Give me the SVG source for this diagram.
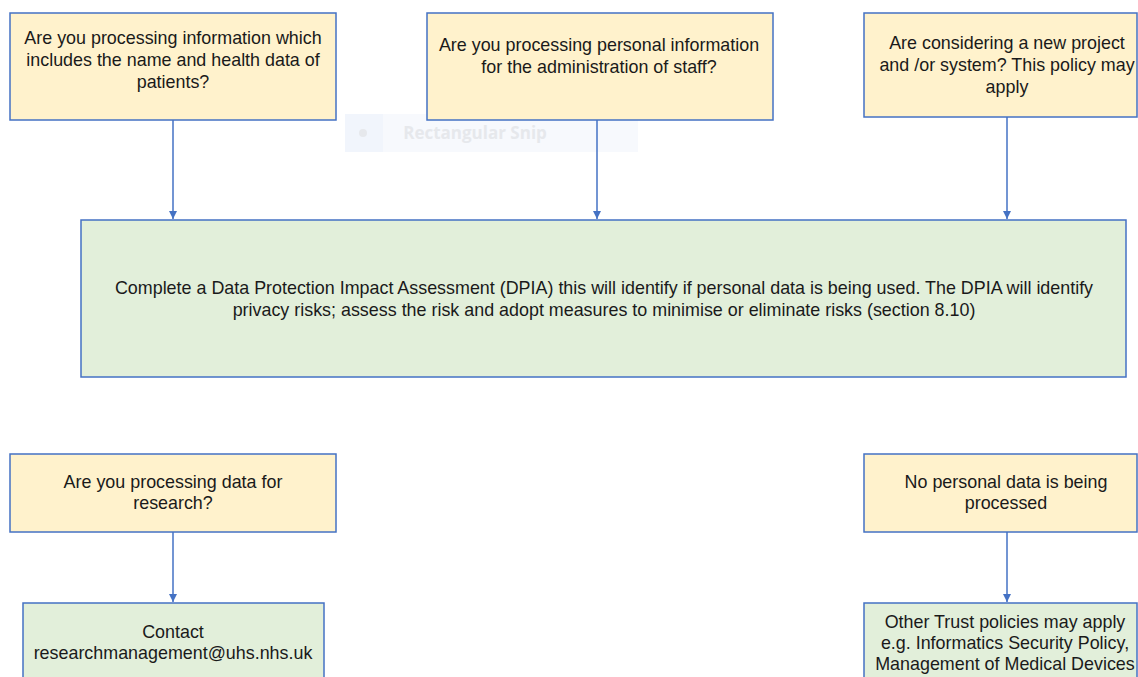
<svg xmlns="http://www.w3.org/2000/svg" width="1138" height="677" viewBox="0 0 1138 677">
<defs>
<style>
.q{fill:#fff2cc;stroke:#4472c4;stroke-width:1.5}
.a{fill:#e2efda;stroke:#4472c4;stroke-width:1.5}
text{font-family:"Liberation Sans",Arial,sans-serif;font-size:17.9px;fill:#1a1a1a;text-anchor:middle}
.c{stroke:#4472c4;stroke-width:1.5;fill:none;marker-end:url(#ah)}
</style>
<marker id="ah" viewBox="0 0 10 10" refX="10" refY="5" markerWidth="8" markerHeight="8" markerUnits="userSpaceOnUse" orient="auto">
<path d="M0,0 L10,5 L0,10 z" fill="#4472c4"/>
</marker>
</defs>
<rect width="1138" height="677" fill="#fff"/>
<g id="snip">
<rect x="345" y="114" width="293" height="38" fill="#f7f9fd"/>
<rect x="345" y="114" width="38" height="38" fill="#f1f5fc"/>
<circle cx="363" cy="133" r="4" fill="#e6e8ec"/>
<text x="475" y="139" style="font-family:'Open Sans',sans-serif;font-size:17px;font-weight:bold;fill:#e6e8ec">Rectangular Snip</text>
</g>
<g id="connectors">
<line class="c" x1="173" y1="120" x2="173" y2="219"/>
<line class="c" x1="597" y1="120" x2="597" y2="219"/>
<line class="c" x1="1007" y1="117" x2="1007" y2="219"/>
<line class="c" x1="173" y1="532" x2="173" y2="602"/>
<line class="c" x1="1007" y1="532" x2="1007" y2="602"/>
</g>
<g id="n1"><rect class="q" x="10" y="13" width="326" height="107"/>
<text x="173" y="44">Are you processing information which</text>
<text x="173" y="66">includes the name and health data of</text>
<text x="173" y="88">patients?</text></g>
<g id="n2"><rect class="q" x="427" y="13" width="346" height="107"/>
<text x="599" y="51">Are you processing personal information</text>
<text x="599" y="73">for the administration of staff?</text></g>
<g id="n3"><rect class="q" x="864" y="13" width="273" height="104"/>
<text x="1007" y="49">Are considering a new project</text>
<text x="1007" y="71">and /or system? This policy may</text>
<text x="1007" y="93">apply</text></g>
<g id="n4"><rect class="a" x="81" y="220" width="1045" height="157"/>
<text x="604" y="294">Complete a Data Protection Impact Assessment (DPIA) this will identify if personal data is being used. The DPIA will identify</text>
<text x="604" y="316">privacy risks; assess the risk and adopt measures to minimise or eliminate risks (section 8.10)</text></g>
<g id="n5"><rect class="q" x="10" y="454" width="326" height="78"/>
<text x="173" y="488">Are you processing data for</text>
<text x="173" y="509">research?</text></g>
<g id="n6"><rect class="a" x="23" y="603" width="301" height="80"/>
<text x="173" y="638">Contact</text>
<text x="173" y="659">researchmanagement@uhs.nhs.uk</text></g>
<g id="n7"><rect class="q" x="864" y="454" width="273" height="78"/>
<text x="1006" y="488">No personal data is being</text>
<text x="1006" y="509">processed</text></g>
<g id="n8"><rect class="a" x="864" y="603" width="273" height="80"/>
<text x="1005" y="628">Other Trust policies may apply</text>
<text x="1005" y="649">e.g. Informatics Security Policy,</text>
<text x="1005" y="670">Management of Medical Devices</text></g>
</svg>
